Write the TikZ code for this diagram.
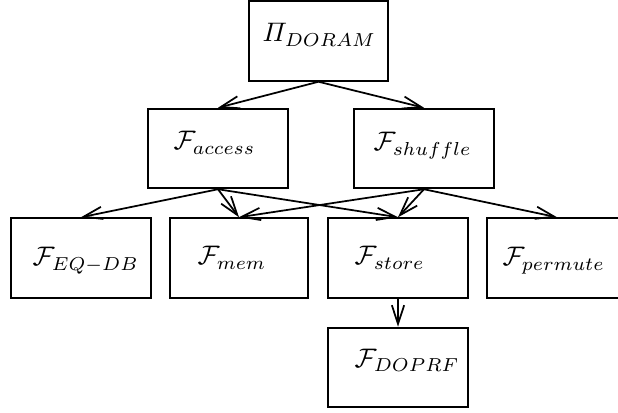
\documentclass[tikz,border=0pt]{standalone}
\usepackage{amsmath}
\DeclareMathSizes{10}{10}{6.7}{5}
\usetikzlibrary{arrows.meta}
\begin{document}
\begin{tikzpicture}[x=0.373pt,y=-0.373pt,
  box/.style={draw,line width=0.8pt,minimum width=52.2pt,minimum height=29.6pt,inner sep=0pt},
  lbl/.style={anchor=base west,inner sep=0pt},
  link/.style={line width=0.65pt,-{Straight Barb[length=7pt,width=4.6pt,line width=0.65pt]}}]
\useasboundingbox (0,0) rectangle (618,413);
\clip (0,0) rectangle (618,413);
% boxes
\node[box,minimum width=51.8pt] (pi) at (318.5,41) {};
\node[box] (access) at (218,148.5) {};
\node[box] (shuffle) at (424,148.5) {};
\node[box] (eqdb) at (81,258) {};
\node[box,minimum width=51.5pt] (mem) at (239,258) {};
\node[box] (store) at (398,258) {};
\node[box] (permute) at (557,258) {};
\node[box] (doprf) at (398,367.5) {};
% labels
\node[lbl] (pi-t) at (262,42) {$\varPi_{DORAM}$};
\node[lbl] (access-t) at (173,150) {$\mathcal{F}_{access}$};
\node[lbl] (shuffle-t) at (373,151) {$\mathcal{F}_{shuffle}$};
\node[lbl] (eqdb-t) at (32,266) {$\mathcal{F}_{EQ-DB}$};
\node[lbl] (mem-t) at (197,265) {$\mathcal{F}_{mem}$};
\node[lbl] (store-t) at (354,265) {$\mathcal{F}_{store}$};
\node[lbl] (permute-t) at (502,266) {$\mathcal{F}_{permute}$};
\node[lbl] (doprf-t) at (354,367) {$\mathcal{F}_{DOPRF}$};
% connectors
\draw[link] (pi.south) -- (access.north);
\draw[link] (pi.south) -- (shuffle.north);
\draw[link] (access.south) -- (eqdb.north);
\draw[link] (access.south) -- (mem.north);
\draw[link] (access.south) -- (store.north);
\draw[link] (shuffle.south) -- (mem.north);
\draw[link] (shuffle.south) -- (store.north);
\draw[link] (shuffle.south) -- (permute.north);
\draw[link] (store.south) -- (doprf.north);
\end{tikzpicture}
\end{document}
